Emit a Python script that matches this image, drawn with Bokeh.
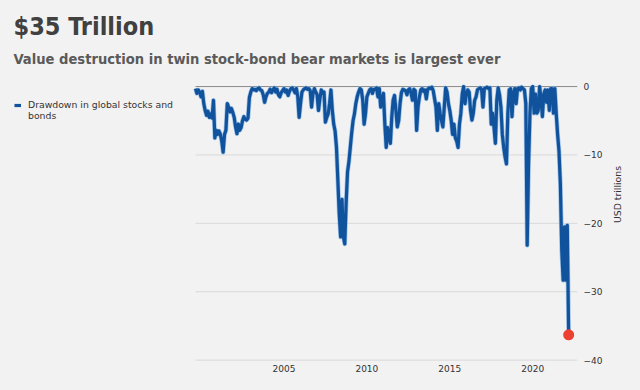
import math
import pandas as pd
from bokeh.plotting import figure
from bokeh.models import (Range1d, FixedTicker, Title, Legend, LegendItem,
                          ColumnDataSource)
from bokeh.embed import file_html
from bokeh.resources import INLINE

# ---- data: monthly drawdown, USD trillions (Mar 2000 .. Sep 2022) ----
start_month = "2000-03-01"
v2000 = [-0.3, -1.0, -0.5, -0.8, -1.5, -0.7, -2.5, -3.5, -4.2, -3.6]
v2001 = [-4.5, -4.0, -4.6, -2.0, -7.5, -6.4, -7.0, -6.5, -7.0, -8.0, -9.6, -7.0]
v2002 = [-6.4, -2.5, -3.0, -3.7, -3.2, -3.8, -4.5, -5.9, -6.9, -5.5, -6.4, -6.0]
v2003 = [-5.0, -4.4, -4.8, -4.9, -4.6, -1.6, -0.8, -0.3, -0.5, -0.4, -0.6, -0.3]
v2004 = [-0.2, -0.5, -0.6, -1.2, -2.3, -1.5, -1.0, -0.8, -0.4, -0.9, -0.5, -0.2]
v2005 = [-0.8, -0.4, -1.2, -1.5, -0.9, -0.6, -0.3, -0.8, -0.5, -1.3, -0.7, -0.3]
v2006 = [-0.2, -0.5, -0.9, -0.3, -1.5, -4.5, -2.5, -0.8, -0.5, -0.3, -0.2, -0.4]
v2007 = [-0.3, -0.6, -3.0, -1.0, -0.3, -0.8, -1.2, -3.5, -1.8, -0.5, -1.0, -0.8]
v2008 = [-5.2, -4.5, -4.0, -2.5, -0.5, -3.5, -5.5, -6.5, -8.9, -13.7, -18.6, -22.0]
v2009 = [-16.5, -22.0, -23.0, -17.0, -12.5, -11.0, -8.9, -6.8, -5.0, -4.0, -2.5, -1.5]
v2010 = [-0.8, -0.3, -0.5, -2.0, -5.5, -4.0, -1.5, -1.0, -0.5, -0.3, -1.0, -0.4]
v2011 = [-0.4, -0.2, -1.5, -0.3, -3.0, -2.0, -1.0, -5.5, -8.9, -6.0, -7.5, -8.3]
v2012 = [-4.5, -2.0, -1.3, -3.5, -5.9, -5.0, -2.5, -0.9, -0.4, -0.5, -0.6, -1.2]
v2013 = [-0.5, -0.3, -1.0, -2.0, -0.4, -0.6, -6.4, -3.0, -1.5, -0.5, -0.3, -0.7]
v2014 = [-0.5, -1.8, -0.4, -0.2, -0.3, -0.1, -0.6, -1.8, -3.0, -6.4, -2.5, -3.9]
v2015 = [-5.0, -5.9, -3.0, -0.2, -0.8, -2.5, -3.5, -4.9, -7.0, -5.5, -7.5, -8.0]
v2016 = [-8.9, -5.5, -3.9, -1.1, 0.0, -2.5, -1.1, -0.5, -0.8, -3.5, -4.9, -3.9]
v2017 = [-2.0, -1.5, -0.5, -0.3, -0.2, -0.4, -3.0, -0.3, -0.2, -0.1, -0.3, -0.2]
v2018 = [-5.5, -3.9, -6.0, -8.3, -2.0, -0.2, -1.2, -3.0, -7.0, -8.9, -10.3, -11.3]
v2019 = [-3.9, -0.5, -0.3, -4.4, -1.0, -0.3, -2.5, -0.3, -0.2, -0.5, -0.1, -0.3]
v2020 = [-0.5, -2.5, -23.2, -11.3, -3.9, -0.3, 0.0, -3.9, -1.1, -3.9, -3.5, 0.0]
v2021 = [-1.8, -4.4, -1.1, -0.5, -2.3, -0.5, -3.5, -0.3, -0.3, -3.9, -0.3, -3.9]
v2022 = [-7.0, -9.4, -14.2, -23.9, -28.3, -20.5, -28.3, -20.3, -36.3]

year_ticks = [2005, 2010, 2015, 2020]
y_ticks = [-40, -30, -20, -10, 0]

series_label_lines = ["Drawdown in global stocks and", "bonds"]
title_text = "$35 Trillion"
subtitle_text = "Value destruction in twin stock-bond bear markets is largest ever"
y_label = "USD trillions"

values = (v2000 + v2001 + v2002 + v2003 + v2004 + v2005 + v2006 + v2007 + v2008 +
          v2009 + v2010 + v2011 + v2012 + v2013 + v2014 + v2015 + v2016 + v2017 +
          v2018 + v2019 + v2020 + v2021 + v2022)
dates = pd.date_range(start_month, periods=len(values), freq="MS")
xs = list(dates.year + (dates.month - 1) / 12.0)

src = ColumnDataSource(dict(x=xs, y=values))
last = ColumnDataSource(dict(x=[xs[-1]], y=[values[-1]]))

# ---- layout constants ----
W, H = 640, 390
B_RIGHT, B_TOP, B_BOTTOM = 63, 84, 29
PLOT_LEFT_PX = 195          # where the chart area begins (legend sits left of it)
x_hi = 2023.2
y_lo, y_hi = -40.2, 0.3
frame_w = W - B_RIGHT
px_per_year = (frame_w - PLOT_LEFT_PX) / (x_hi - xs[0])
x_lo = x_hi - frame_w / px_per_year

BG = "#f2f2f2"
FONT = "DejaVu Sans"
COND = "'DejaVu Sans Condensed', 'DejaVu Sans'"

p = figure(width=W, height=H, output_backend="svg", toolbar_location=None,
           x_range=Range1d(x_lo, x_hi), y_range=Range1d(y_lo, y_hi),
           y_axis_location="right",
           min_border_left=0, min_border_right=B_RIGHT, min_border_top=B_TOP,
           min_border_bottom=B_BOTTOM)
p.background_fill_color = BG
p.border_fill_color = BG
p.outline_line_color = None

# titles
sub = Title(text=subtitle_text, align="left", offset=13,
            text_font=COND, text_font_size="14.6px",
            text_font_style="bold", text_color="#5a5a5a", standoff=36)
p.add_layout(sub, "above")
main = Title(text=title_text, align="left", offset=13,
             text_font=COND, text_font_size="25px",
             text_font_style="bold", text_color="#404040", standoff=-23)
p.add_layout(main, "above")
p.title.visible = False

# gridlines only across the chart area (from first data point to right edge)
p.xgrid.visible = False
p.ygrid.visible = False
grid_y = [t for t in y_ticks if t != 0]
p.segment(x0=[xs[0]] * len(grid_y), y0=grid_y, x1=[x_hi] * len(grid_y), y1=grid_y,
          line_color="#d9d9d9", line_width=1)
p.segment(x0=[xs[0]], y0=[0], x1=[x_hi], y1=[0], line_color="#8a8a8a", line_width=1)

p.yaxis.ticker = FixedTicker(ticks=y_ticks)
p.yaxis.axis_line_color = None
p.yaxis.major_tick_line_color = None
p.yaxis.major_tick_out = 0
p.yaxis.major_tick_in = 0
p.yaxis.minor_tick_line_color = None
p.yaxis.major_label_standoff = 6
p.yaxis.major_label_text_font = FONT
p.yaxis.major_label_text_font_size = "9px"
p.yaxis.major_label_text_color = "#333333"
p.yaxis.axis_label = y_label
p.yaxis.axis_label_orientation = math.pi / 2
p.yaxis.axis_label_text_align = "center"
p.yaxis.axis_label_text_font = FONT
p.yaxis.axis_label_text_font_size = "9.3px"
p.yaxis.axis_label_text_font_style = "normal"
p.yaxis.axis_label_text_color = "#333333"
p.yaxis.axis_label_standoff = 12

mid_ticks = [y + 0.5 for y in year_ticks]
p.xaxis.ticker = FixedTicker(ticks=mid_ticks)
p.xaxis.major_label_overrides = {t: str(y) for t, y in zip(mid_ticks, year_ticks)}
p.xaxis.axis_line_color = None
p.xaxis.major_tick_line_color = None
p.xaxis.major_tick_out = 0
p.xaxis.major_tick_in = 0
p.xaxis.minor_tick_line_color = None
p.xaxis.major_label_standoff = 3
p.xaxis.major_label_text_font = FONT
p.xaxis.major_label_text_font_size = "9px"
p.xaxis.major_label_text_color = "#333333"

# series
p.line("x", "y", source=src, line_color="#7aaee3", line_width=4.6, line_alpha=0.7,
       line_join="round")
ln = p.line("x", "y", source=src, line_color="#10529c", line_width=3.2, line_join="round")
p.scatter("x", "y", source=last, size=11, fill_color="#ec4030", line_color=None)
blank = p.line(x=[], y=[], line_alpha=0)

legend = Legend(items=[LegendItem(label=series_label_lines[0], renderers=[ln]),
                       LegendItem(label=series_label_lines[1], renderers=[blank])],
                location=(14, 240), margin=0, padding=0, spacing=-5,
                glyph_width=7, glyph_height=8, label_height=8, label_standoff=7,
                label_text_font=FONT, label_text_font_size="9.3px",
                label_text_color="#333333",
                border_line_color=None, background_fill_alpha=0)
p.add_layout(legend, "center")

html = file_html(p, INLINE)
html = html.replace("<body>", '<body style="background:#f2f2f2">')
open("out.html", "w").write(html)
